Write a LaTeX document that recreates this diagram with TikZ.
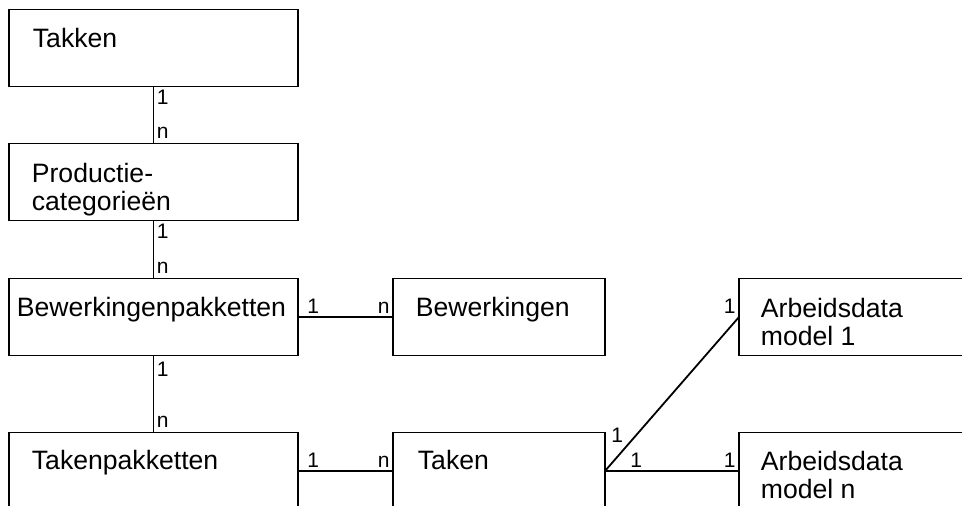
\documentclass[tikz,border=0pt]{standalone}
\usepackage{fontspec}
\setmainfont{Liberation Sans}
\usetikzlibrary{positioning}

\begin{document}
\begin{tikzpicture}[x=1pt,y=-1pt,-,line width=1.8pt,node distance=57pt,
    entity/.style={rectangle,draw,outer sep=0pt,inner sep=0pt,minimum width=289pt,minimum height=77pt},
    mid entity/.style={entity,minimum width=212pt},
    data entity/.style={entity,minimum width=240pt},
    title/.style={anchor=north west,inner sep=0pt,align=left,font=\fontsize{26.6}{27.5}\selectfont},
    card/.style={inner sep=2.5pt,font=\fontsize{21}{23}\selectfont}]
    \useasboundingbox (0,0) rectangle (962,506);
    \clip (0,0) rectangle (962,506);

    \node[entity] (T) at (153.5,48) {};
    \node[entity] (PC) [below=of T] {};
    \node[entity] (BP) [below=58pt of PC] {};
    \node[entity] (TP) [below=77pt of BP] {};

    \node[mid entity] (B) [right=95pt of BP] {};
    \node[mid entity] (TK) [right=95pt of TP] {};

    \node[data entity] (A1) [right=134pt of B] {};
    \node[data entity] (An) [right=134pt of TK] {};

    % titles inside the boxes
    \node[title] (T text) at ([shift={(23pt,-18pt)}]T.north west) {Takken};
    \node[title] (PC text) at ([shift={(22pt,-19pt)}]PC.north west) {Productie-\\categorieën};
    \node[title] (BP text) at ([shift={(7pt,-18pt)}]BP.north west) {Bewerkingenpakketten};
    \node[title] (TP text) at ([shift={(22pt,-17pt)}]TP.north west) {Takenpakketten};
    \node[title] (B text) at ([shift={(22pt,-18pt)}]B.north west) {Bewerkingen};
    \node[title] (TK text) at ([shift={(24pt,-17pt)}]TK.north west) {Taken};
    \node[title] (A1 text) at ([shift={(21pt,-19pt)}]A1.north west) {Arbeidsdata\\model 1};
    \node[title] (An text) at ([shift={(21pt,-18pt)}]An.north west) {Arbeidsdata\\model n};

    \path[every node/.style={card}]
        (T) edge node[pos=0,anchor=north west]{1} node[pos=1,anchor=south west,yshift=2pt]{n} (PC)
        (PC) edge node[pos=0,anchor=north west]{1} node[pos=1,anchor=south west,yshift=2pt]{n} (BP)
        (BP) edge node[pos=0,anchor=north west,yshift=-3pt]{1} node[pos=1,anchor=south west,yshift=2pt]{n} (TP)
        (BP) edge node[pos=0,anchor=south west,xshift=6pt]{1} node[pos=1,anchor=south east]{n} (B)
        (TP) edge node[pos=0,anchor=south west,xshift=6pt]{1} node[pos=1,anchor=south east]{n} (TK)
        (TK.east) edge node[pos=0.16,anchor=south east]{1} node[pos=1,anchor=south east]{1} (A1.west)
        (TK) edge node[pos=0,anchor=south west,xshift=22pt]{1} node[pos=1,anchor=south east]{1} (An)
        ;
\end{tikzpicture}
\end{document}
